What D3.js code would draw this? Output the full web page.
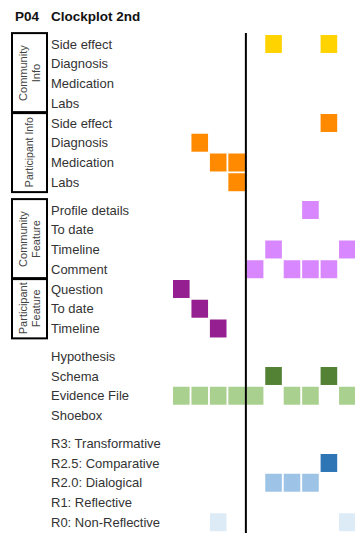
<!DOCTYPE html>
<html>
<head>
<meta charset="utf-8">
<script src="https://cdn.jsdelivr.net/npm/d3@7"></script>
<style>
  html, body { margin: 0; padding: 0; background: #fff; }
  svg { display: block; }
</style>
</head>
<body>
<svg id="chart" width="355" height="533"></svg>
<script>
// ---- data ----
const titleId = "P04";
const titleText = "Clockplot 2nd";
const columns = [0, 1, 2, 3, 4, 5, 6, 7, 8, 9];
const dividerColumn = 4;

const rowLabels = [
  "Side effect", "Diagnosis", "Medication", "Labs",
  "Side effect", "Diagnosis", "Medication", "Labs",
  "Profile details", "To date", "Timeline", "Comment",
  "Question", "To date", "Timeline",
  "Hypothesis", "Schema", "Evidence File", "Shoebox",
  "R3: Transformative", "R2.5: Comparative", "R2.0: Dialogical", "R1: Reflective", "R0: Non-Reflective"
];
// section (vertical gap group) of each row
const rowSection = [0,0,0,0,0,0,0,0, 1,1,1,1,1,1,1, 2,2,2,2, 3,3,3,3,3];
// colour category of each row
const rowCategory = [
  "commInfo","commInfo","commInfo","commInfo",
  "partInfo","partInfo","partInfo","partInfo",
  "commFeat","commFeat","commFeat","commFeat",
  "partFeat","partFeat","partFeat",
  "hyp","schema","evidence","shoebox",
  "r3","r25","r20","r1","r0"
];
// active columns for each row
const rowCells = [
  [5, 8], [], [], [],
  [8], [1], [2, 3], [3],
  [7], [], [5, 9], [4, 6, 7, 8],
  [0], [1], [2],
  [], [5, 8], [0, 1, 2, 3, 4, 6, 7, 9], [],
  [], [8], [5, 6, 7], [], [2, 9]
];
// bracketed groups on the left: [label lines, first row, last row]
const groupLabels = [["Community", "Info"], ["Participant Info"], ["Community", "Feature"], ["Participant", "Feature"]];
const groupFirst = [0, 4, 8, 12];
const groupLast = [3, 7, 11, 14];

// ---- styles ----
const categoryColor = {
  commInfo: "#FFD300", partInfo: "#FF8A00",
  commFeat: "#D887FF", partFeat: "#951F90",
  hyp: "#548235", schema: "#548235", evidence: "#A9D08E", shoebox: "#A9D08E",
  r3: "#1F4E79", r25: "#2E75B6", r20: "#9DC3E6", r1: "#BDD7EE", r0: "#DDEBF7"
};

const svg = d3.select("#chart");
const font = "'Liberation Sans', Arial, Helvetica, sans-serif";

const xStep = 18.45, xPad = 0.1;
const x = d3.scaleBand().domain(columns)
  .range([173 - xStep * xPad / 2, 173 - xStep * xPad / 2 + xStep * columns.length])
  .paddingInner(xPad).paddingOuter(xPad / 2);

const yStep = 19.75, yPad = 0.09, sectionGap = 8;
const yBand = d3.scaleBand().domain(d3.range(rowLabels.length))
  .range([35 - yStep * yPad / 2, 35 - yStep * yPad / 2 + yStep * rowLabels.length])
  .paddingInner(yPad).paddingOuter(yPad / 2);
const y = i => yBand(i) + rowSection[i] * sectionGap;

// title
svg.append("text").attr("x", 15).attr("y", 21)
  .attr("font-family", font).attr("font-weight", "bold").attr("font-size", 13.5)
  .attr("fill", "#111").text(titleId);
svg.append("text").attr("x", 51).attr("y", 21)
  .attr("font-family", font).attr("font-weight", "bold").attr("font-size", 13.5)
  .attr("fill", "#111").text(titleText);

// cells
const cells = [];
rowCells.forEach((cols, r) => cols.forEach(c => cells.push({ r, c })));
svg.append("g").selectAll("rect").data(cells).join("rect")
  .attr("x", d => x(d.c))
  .attr("y", d => y(d.r))
  .attr("width", x.bandwidth())
  .attr("height", yBand.bandwidth())
  .attr("fill", d => categoryColor[rowCategory[d.r]]);

// row labels
svg.append("g").selectAll("text").data(rowLabels).join("text")
  .attr("x", 51)
  .attr("y", (d, i) => y(i) + yBand.bandwidth() / 2)
  .attr("dy", "0.36em")
  .attr("font-family", font).attr("font-size", 13)
  .attr("fill", "#333")
  .text(d => d);

// divider line
const lineX = x(dividerColumn) - x.step() * xPad / 2;
svg.append("line")
  .attr("x1", lineX).attr("x2", lineX)
  .attr("y1", y(0) - 2).attr("y2", 533)
  .attr("stroke", "#000").attr("stroke-width", 2);

// group boxes
const gTop = i => y(groupFirst[i]) - yStep * yPad / 2 - 1;
const gBot = i => y(groupLast[i]) + yBand.bandwidth() + yStep * yPad / 2;
groupLabels.forEach((lines, i) => {
  const top = gTop(i), bot = gBot(i);
  svg.append("rect")
    .attr("x", 12).attr("y", top).attr("width", 35).attr("height", bot - top)
    .attr("fill", "none").attr("stroke", "#000").attr("stroke-width", 2);
  const cy = (top + bot) / 2;
  const cx = 29.5;
  const lh = 13;
  lines.forEach((t, k) => {
    const lx = cx + (k - (lines.length - 1) / 2) * lh;
    svg.append("text")
      .attr("transform", `translate(${lx},${cy}) rotate(-90)`)
      .attr("text-anchor", "middle").attr("dy", "0.35em")
      .attr("font-family", font).attr("font-size", lines.length === 1 ? 10.5 : 11)
      .attr("fill", "#444")
      .text(t);
  });
});
</script>
</body>
</html>
